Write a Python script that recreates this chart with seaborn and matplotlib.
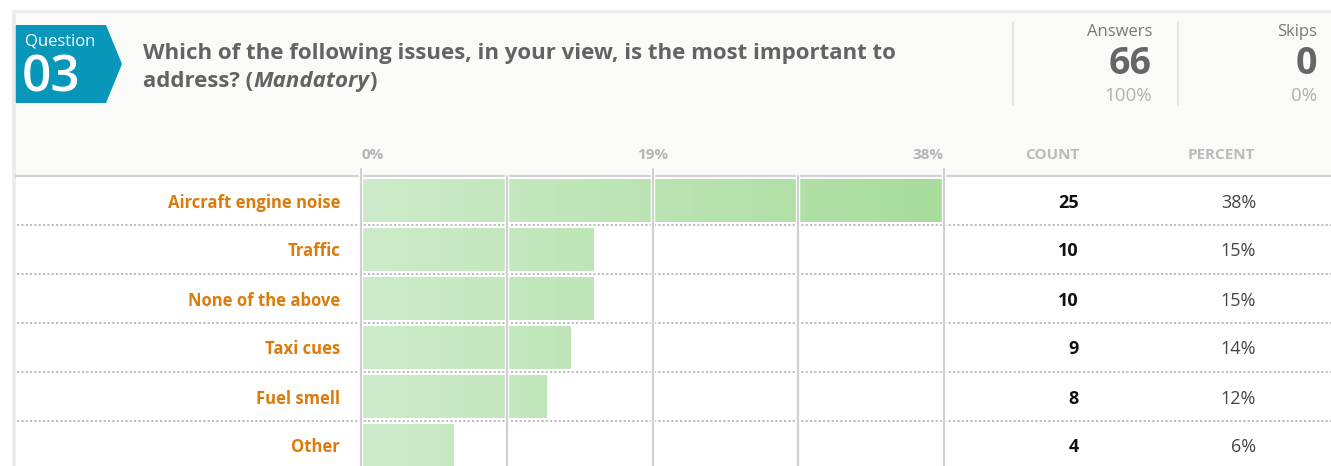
import matplotlib
matplotlib.use("Agg")
import matplotlib.pyplot as plt
import matplotlib.transforms as mtransforms
from matplotlib.colors import LinearSegmentedColormap
from matplotlib.patches import Polygon, Rectangle
import numpy as np
import pandas as pd
import seaborn as sns

# ---------- data ----------
question_no = "03"
title_line1 = "Which of the following issues, in your view, is the most important to"
title_line2_parts = [("address? (", "normal"), ("Mandatory", "italic"), (")", "normal")]
answers = 66
skips = 0
categories = ["Aircraft engine noise", "Traffic", "None of the above",
              "Taxi cues", "Fuel smell", "Other"]
counts = [25, 10, 10, 9, 8, 4]
axis_max = 38
major_ticks = [0, 19, 38]
minor_ticks = [9.5, 28.5]

df = pd.DataFrame({"option": categories, "count": counts})
df["percent"] = df["count"] / answers * 100

W, H = 1331, 466
sns.set_style("white")
plt.rcParams["font.family"] = ["Open Sans", "DejaVu Sans"]

fig = plt.figure(figsize=(W / 100, H / 100), dpi=100)
fig.patch.set_facecolor("white")

# overlay in pixel coordinates (y down)
ov = fig.add_axes([0, 0, 1, 1], zorder=0)
ov.set_xlim(0, W)
ov.set_ylim(H, 0)
ov.axis("off")

# card background / borders
ov.add_patch(Rectangle((12, 10), W, H, facecolor="white", edgecolor="none"))
ov.add_patch(Rectangle((12, 10), W, 166, facecolor="#fafaf9", edgecolor="none"))
ov.plot([12, W], [11, 11], color="#ededeb", lw=2.2, solid_capstyle="butt")
ov.plot([13.5, 13.5], [10, H], color="#ebeae8", lw=2.6, solid_capstyle="butt")

# question badge
ov.add_patch(Polygon([(14, 25), (106, 25), (122, 64), (106, 103), (14, 103)],
                     closed=True, facecolor="#0897b8", edgecolor="none"))
ov.text(25, 41, "Question", color="white", fontsize=12, va="center", ha="left")
ov.text(22, 79, question_no, color="white", fontsize=37, fontweight="semibold",
        va="center", ha="left")

# title
ov.text(143, 51, title_line1, color="#636363", fontsize=16, fontweight="bold",
        va="center_baseline", ha="left")
renderer = fig.canvas.get_renderer()
x_cur = 143
for txt, style in title_line2_parts:
    t = ov.text(x_cur, 79, txt, color="#636363", fontsize=16, fontweight="bold",
                style=style, va="center_baseline", ha="left")
    bb = t.get_window_extent(renderer=renderer)
    x_cur += bb.width

# answers / skips
for xs in [1013, 1178]:
    ov.plot([xs, xs], [22, 105], color="#e5e5e5", lw=1.5)
stats = [("Answers", answers, 1152), ("Skips", skips, 1317)]
for name, val, xr in stats:
    ov.text(xr, 32, name, color="#777777", fontsize=12, ha="right", va="center")
    ov.text(xr, 64, str(val), color="#666666", fontsize=27, fontweight="bold",
            ha="right", va="center")
    ov.text(xr, 96, f"{round(val / answers * 100)}%", color="#b0b0b0",
            fontsize=13.5, ha="right", va="center")

# header line
ov.plot([15, W], [176, 176], color="#d3d3d3", lw=1.6, solid_capstyle="butt")
ov.text(1079, 155, "COUNT", color="#bbbbbb", fontsize=11, fontweight="bold",
        ha="right", va="center")
ov.text(1255, 155, "PERCENT", color="#bbbbbb", fontsize=11, fontweight="bold",
        ha="right", va="center")

# ---------- bar axes ----------
ax = fig.add_axes([361 / W, 0, 583 / W, (H - 169) / H], zorder=1)
ax.patch.set_alpha(0)
sns.barplot(data=df, x="percent", y="option", orient="h", ax=ax, width=0.86,
            color="#c8eac4", saturation=1, edgecolor="none")

cmap = LinearSegmentedColormap.from_list("grn", ["#cdebca", "#a8dc9c"])
grad = np.linspace(0, 1, 256).reshape(1, -1)
for p in ax.patches:
    y0 = p.get_y()
    y1 = y0 + p.get_height()
    im = ax.imshow(grad, cmap=cmap, extent=(0, axis_max, y1, y0), aspect="auto",
                   zorder=1, interpolation="bilinear")
    im.set_clip_path(p)
    p.set_facecolor("none")

y_top = -(200.5 - 169) / 49
y_bot = (466 - 200.5) / 49
ax.set_xlim(0, axis_max)
ax.set_ylim(y_bot, y_top)
ax.axis("off")

hdr_frac = (H - 176) / (H - 169)
for xv in major_ticks + minor_ticks:
    ymax = 1 if xv in major_ticks else hdr_frac
    ax.axvline(xv, ymin=0, ymax=ymax, color="white", lw=3.2, zorder=2, clip_on=False)
    ax.axvline(xv, ymin=0, ymax=ymax, color="#d0d0d0", lw=1.6, zorder=3, clip_on=False)

# tick labels above
tick_tr = mtransforms.blended_transform_factory(ax.transData, ov.transData)
for i, xv in enumerate(major_ticks):
    ha = "left" if i == 0 else ("right" if i == len(major_ticks) - 1 else "center")
    ax.text(xv, 155, f"{xv}%", transform=tick_tr, color="#b5b5b5", fontsize=11,
            fontweight="bold", ha=ha, va="center")

# row labels, separators, counts and percents
row_tr = mtransforms.blended_transform_factory(ov.transData, ax.transData)
for i, row in df.iterrows():
    ax.text(340, i, row["option"], transform=row_tr, color="#da7b0c", fontsize=12,
            fontweight="bold", ha="right", va="center_baseline")
    ax.text(1079, i, str(row["count"]), transform=row_tr, color="#111111",
            fontsize=13, fontweight="bold", ha="right", va="center_baseline")
    ax.text(1256, i, f"{round(row['percent'])}%", transform=row_tr, color="#444444",
            fontsize=13, ha="right", va="center_baseline")
    if i < len(df) - 1:
        ax.plot([17, W], [i + 0.5, i + 0.5], transform=row_tr, color="#b8b8b8",
                lw=1.3, linestyle=(0, (1.2, 1.2)), zorder=1.5, clip_on=False)

fig.savefig("out.png", dpi=100)
